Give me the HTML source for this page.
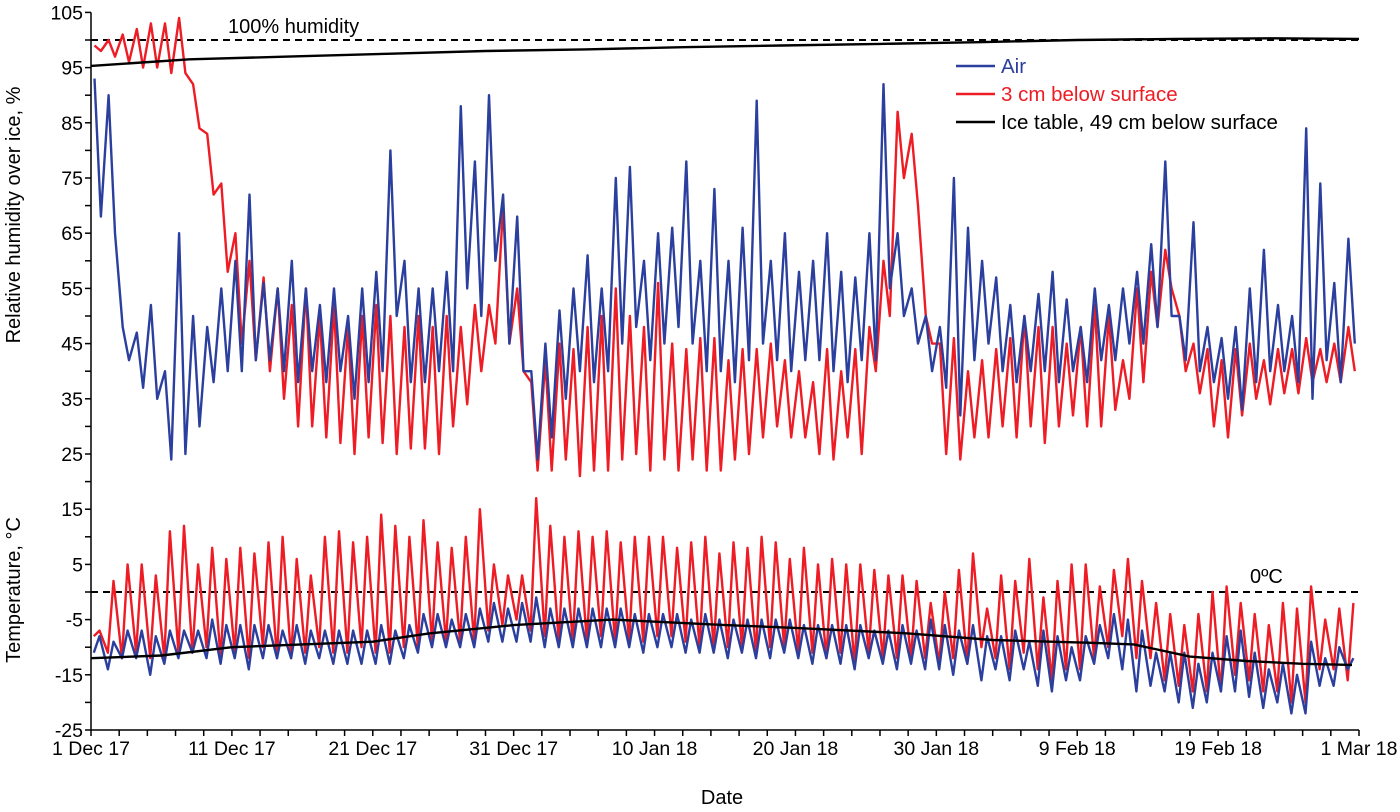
<!DOCTYPE html>
<html><head><meta charset="utf-8"><style>
html,body{margin:0;padding:0;background:#fff;}
svg{display:block;font-family:"Liberation Sans",Arial,sans-serif;}
</style></head><body>
<svg id="chart" width="1400" height="812" viewBox="0 0 1400 812">
<g id="marks"></g>
<g id="axes"></g>
<text x="228" y="33" font-size="20">100% humidity</text>
<text x="1250" y="583" font-size="20">0ºC</text>
<g>
<g><line x1="956" y1="66" x2="995" y2="66" stroke="#2b3f9e" stroke-width="2.5"/><text x="1001" y="73" font-size="20.5" fill="#2b3f9e">Air</text></g>
<g><line x1="956" y1="94" x2="995" y2="94" stroke="#ee1c24" stroke-width="2.5"/><text x="1001" y="101" font-size="20.5" fill="#ee1c24">3 cm below surface</text></g>
<g><line x1="956" y1="122" x2="995" y2="122" stroke="#000" stroke-width="2.5"/><text x="1001" y="129" font-size="20.5" fill="#000">Ice table, 49 cm below surface</text></g>
</g>
<text transform="translate(20,215) rotate(-90)" text-anchor="middle" font-size="20">Relative humidity over ice, %</text>
<text transform="translate(20,590) rotate(-90)" text-anchor="middle" font-size="20">Temperature, °C</text>
<text x="722" y="804" text-anchor="middle" font-size="20">Date</text>
</svg>
<script>
const xTickLabels=["1 Dec 17","11 Dec 17","21 Dec 17","31 Dec 17","10 Jan 18","20 Jan 18","30 Jan 18","9 Feb 18","19 Feb 18","1 Mar 18"];
const yTicks=[105,95,85,75,65,55,45,35,25,15,5,-5,-15,-25];
const rhAirMax=[93,90,48,47,52,40,65,50,48,55,60,72,56,55,60,55,52,55,50,55,58,80,60,55,55,58,88,78,90,72,68,40,45,51,55,61,55,75,77,60,65,66,78,60,73,60,66,89,60,65,58,60,65,58,57,65,92,65,55,50,48,75,66,60,57,52,50,54,58,53,48,55,52,55,58,63,78,50,67,48,46,48,55,62,52,50,84,74,56,64];
const rhAirMin=[68,65,42,37,35,24,25,30,38,40,40,42,42,40,38,40,38,40,35,38,40,50,38,38,40,40,55,50,60,45,40,24,28,35,40,38,40,45,48,42,45,48,45,40,40,38,42,45,42,40,42,42,40,38,42,42,55,50,45,40,37,32,42,45,40,38,40,40,38,40,38,42,42,45,45,48,50,42,40,38,35,33,38,40,40,38,35,42,38,45];
const rhSoilMax=[99,100,101,102,103,103,104,92,83,74,65,60,57,55,52,55,50,52,48,50,52,50,48,50,48,50,48,52,52,70,55,38,42,45,44,48,50,55,50,48,56,45,44,46,46,42,44,44,45,42,40,38,44,40,44,48,60,87,83,50,45,46,40,42,44,46,50,48,48,45,48,52,50,42,55,58,62,50,45,44,42,44,45,42,44,44,46,44,45,48];
const rhSoilMin=[98,97,96,95,95,94,94,84,72,58,45,42,40,35,30,30,28,27,25,28,27,25,26,26,25,30,34,40,45,45,40,22,22,24,21,22,22,24,25,22,24,22,24,22,22,24,25,28,30,28,28,25,24,28,25,40,50,75,70,45,25,24,28,28,30,28,30,27,30,32,30,30,33,35,38,48,55,40,36,30,28,32,35,34,36,36,38,38,38,40];
const rhIceDays=[0,7,14,21,28,35,42,49,56,63,70,77,84,90];
const rhIceVals=[95.3,96.5,97,97.5,98,98.3,98.7,99,99.3,99.6,100,100.2,100.3,100.2];
const tSoilMax=[-7,2,5,5,3,11,12,5,8,6,8,7,9,10,6,3,10,11,9,10,14,12,10,13,9,8,10,15,5,3,3,17,12,10,11,10,11,9,10,10,10,8,9,10,7,9,8,10,9,6,8,5,6,5,5,4,3,3,2,-2,0,4,7,-3,3,2,6,-1,2,5,5,1,4,6,2,-2,-4,-6,-4,0,1,-2,-4,-6,-2,-3,1,-5,-3,-2];
const tSoilMin=[-8,-11,-12,-11,-12,-12,-11,-11,-10,-12,-11,-12,-10,-12,-12,-11,-10,-11,-11,-10,-11,-11,-10,-10,-9,-9,-9,-9,-7,-6,-5,-7,-8,-9,-9,-9,-8,-9,-9,-9,-8,-8,-9,-10,-10,-10,-10,-11,-10,-10,-11,-11,-12,-11,-13,-11,-12,-12,-12,-12,-13,-12,-13,-10,-12,-14,-11,-14,-16,-14,-14,-12,-10,-8,-12,-12,-16,-17,-18,-18,-18,-15,-16,-18,-18,-20,-20,-14,-14,-16];
const tAirMax=[-8,-9,-7,-7,-8,-7,-7,-7,-5,-6,-6,-6,-6,-7,-6,-7,-7,-7,-7,-7,-6,-7,-6,-4,-4,-5,-4,-3,-2,-3,-2,-1,-3,-3,-3,-3,-3,-3,-4,-4,-4,-4,-5,-4,-5,-5,-5,-5,-5,-5,-6,-6,-6,-6,-6,-7,-7,-6,-7,-5,-6,-7,-6,-8,-8,-7,-9,-7,-8,-10,-8,-6,-4,-5,-7,-11,-11,-11,-13,-11,-8,-7,-11,-14,-13,-15,-9,-12,-10,-12];
const tAirMin=[-11,-14,-12,-12,-15,-13,-12,-11,-12,-13,-12,-14,-12,-12,-12,-13,-12,-13,-13,-13,-13,-13,-12,-11,-10,-10,-10,-10,-9,-9,-9,-9,-10,-10,-10,-10,-10,-10,-10,-11,-10,-10,-11,-11,-11,-12,-11,-12,-12,-11,-12,-13,-12,-13,-14,-12,-13,-14,-13,-14,-14,-15,-13,-16,-14,-16,-14,-17,-18,-16,-16,-13,-12,-14,-18,-17,-18,-20,-21,-20,-18,-18,-19,-21,-20,-22,-22,-17,-17,-14];
const tIceDays=[0,5,10,15,20,24,30,37,45,50,58,64,71,74,78,82,86,89.5];
const tIceVals=[-12,-11.5,-10,-9.5,-9,-7.5,-6,-5,-6,-6.5,-7.5,-8.7,-9.2,-9.5,-11.7,-12.5,-13,-13.2];

const X0=91,X1=1359,NDAYS=90,Y0=592,PPU=5.52;
function xs(d){return X0+(X1-X0)*d/NDAYS;}
function ys(v){return Y0-v*PPU;}
const NS="http://www.w3.org/2000/svg";
const marks=document.getElementById('marks');
const axes=document.getElementById('axes');
function mk(tag,attrs,parent){const e=document.createElementNS(NS,tag);for(const k in attrs)e.setAttribute(k,attrs[k]);parent.appendChild(e);return e;}
function daily(lo,hi,offLo,offHi){const pts=[];for(let i=0;i<lo.length;i++){pts.push([i+offLo,lo[i]]);pts.push([i+offHi,hi[i]]);}return pts;}
function zipPts(d,v){return d.map((x,i)=>[x,v[i]]);}
function drawLine(pts,color,name){
  const p=mk('polyline',{points:pts.map(q=>xs(q[0]).toFixed(1)+','+ys(q[1]).toFixed(1)).join(' '),fill:'none',stroke:color,'stroke-width':2.4,'stroke-linejoin':'round'},marks);
  
  
}
const l100=mk('line',{x1:X0,x2:X1,y1:ys(100),y2:ys(100),stroke:'#000','stroke-width':2,'stroke-dasharray':'7,5'},marks);


const l0=mk('line',{x1:X0,x2:X1,y1:ys(0),y2:ys(0),stroke:'#000','stroke-width':2,'stroke-dasharray':'7,5'},marks);



drawLine(daily(tSoilMin,tSoilMax,0.2,0.6),'#ee1c24','temp-3cm-line');
drawLine(daily(tAirMin,tAirMax,0.2,0.6),'#2b3f9e','temp-air-line');
drawLine(zipPts(tIceDays,tIceVals),'#000','temp-ice-table-line');
drawLine(daily(rhSoilMax,rhSoilMin,0.25,0.7),'#ee1c24','rh-3cm-line');
drawLine(daily(rhAirMax,rhAirMin,0.25,0.7),'#2b3f9e','rh-air-line');
drawLine(zipPts(rhIceDays,rhIceVals),'#000','rh-ice-table-line');

const ya=mk('line',{x1:X0,x2:X0,y1:ys(105),y2:ys(-25),stroke:'#000','stroke-width':1.5},axes);


const xa=mk('line',{x1:X0,x2:X1,y1:ys(-25),y2:ys(-25),stroke:'#000','stroke-width':1.5},axes);


for(let v=-25;v<=105;v+=5){mk('line',{x1:X0-6,x2:X0,y1:ys(v),y2:ys(v),stroke:'#000','stroke-width':1.5},axes);}
yTicks.forEach(v=>{
  const t=mk('text',{x:X0-8,y:ys(v)+7,'text-anchor':'end','font-size':19.5},axes);
  t.textContent=v;
  
  
});
for(let d=0;d<=NDAYS;d+=2){mk('line',{x1:xs(d),x2:xs(d),y1:ys(-25),y2:ys(-25)+6,stroke:'#000','stroke-width':1.5},axes);}
xTickLabels.forEach((s,i)=>{
  const t=mk('text',{x:xs(i*10),y:755,'text-anchor':'middle','font-size':19.5},axes);
  t.textContent=s;
  
  
});
</script>
</body></html>
